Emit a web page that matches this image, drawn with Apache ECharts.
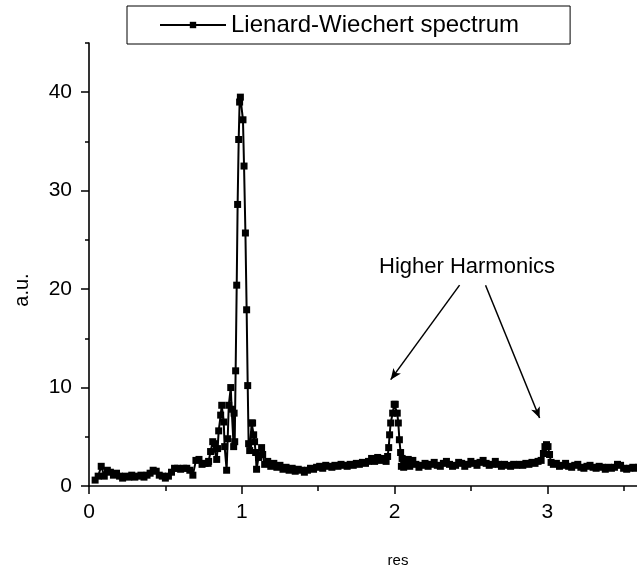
<!DOCTYPE html>
<html>
<head>
<meta charset="utf-8">
<script src="https://cdn.jsdelivr.net/npm/echarts@6/dist/echarts.min.js"></script>
<style>
html,body{margin:0;padding:0;background:#fff;}
#chart{width:637px;height:574px;}
</style>
</head>
<body>
<div id="chart"></div>
<script>
// x positions (res) and spectrum values (a.u.)
var resValues = [
  0.04,0.06,0.08,0.10,0.12,0.14,0.16,0.18,0.20,0.22,0.24,0.26,0.28,0.30,0.32,0.34,0.36,0.38,0.40,0.42,
  0.44,0.46,0.48,0.50,0.52,0.54,0.56,0.58,0.60,0.62,0.64,0.66,0.68,0.70,0.72,0.74,0.76,0.78,
  0.783,0.796,0.810,0.823,0.836,0.842,0.849,0.862,0.869,0.882,0.888,0.901,0.908,0.915,0.928,0.934,
  0.947,0.950,0.954,0.960,0.967,0.973,0.980,0.986,0.991,1.008,1.015,1.024,1.032,1.039,1.045,1.052,
  1.065,1.071,1.078,1.084,1.091,1.097,1.110,1.130,1.137,
  1.15,1.17,1.19,1.21,1.23,1.25,1.27,1.29,1.31,1.33,1.35,1.37,1.39,1.41,1.43,1.45,1.47,1.49,1.51,1.53,
  1.55,1.57,1.59,1.61,1.63,1.65,1.67,1.69,1.71,1.73,1.75,1.77,1.79,1.81,1.83,1.85,1.87,1.89,1.91,1.93,1.945,
  1.955,1.962,1.968,1.975,1.988,1.998,2.005,2.018,2.025,2.032,2.040,2.045,2.05,2.06,2.07,2.08,2.09,2.10,
  2.12,2.14,2.16,2.18,
  2.20,2.22,2.24,2.26,2.28,2.30,2.32,2.34,2.36,2.38,2.40,2.42,2.44,2.46,2.48,2.50,2.52,2.54,2.56,2.58,
  2.60,2.62,2.64,2.66,2.68,2.70,2.72,2.74,2.76,2.78,2.80,2.82,2.84,2.86,2.88,2.90,2.92,2.94,2.96,
  2.975,2.985,2.995,3.005,3.015,3.025,
  3.04,3.06,3.08,3.10,3.12,3.14,3.16,3.18,3.20,3.22,3.24,3.26,3.28,3.30,3.32,3.34,3.36,3.38,3.40,3.42,
  3.44,3.46,3.48,3.50,3.52,3.54,3.56,3.58,3.60
];
var spectrumValues = [
  0.6,1.0,2.0,1.0,1.6,1.4,1.1,1.3,1.0,0.8,1.0,0.9,1.1,0.9,1.0,1.1,0.9,1.1,1.3,1.6,
  1.5,1.1,1.0,0.8,1.0,1.4,1.8,1.8,1.7,1.8,1.8,1.6,1.1,2.6,2.7,2.2,2.3,2.3,
  2.5,3.5,4.5,4.3,2.7,3.8,5.6,7.2,8.2,6.5,4.0,1.6,4.8,8.2,10.0,7.8,
  4.0,7.4,4.5,11.7,20.4,28.6,35.2,39.0,39.5,37.2,32.5,25.7,17.9,10.2,4.3,3.6,
  6.4,6.4,5.2,4.5,3.4,1.7,2.9,3.9,3.2,
  2.2,2.5,2.0,2.3,1.9,2.1,1.7,1.9,1.6,1.8,1.5,1.7,1.6,1.4,1.6,1.8,1.7,1.9,2.0,1.8,
  2.1,2.0,1.9,2.1,2.0,2.2,2.1,2.0,2.2,2.1,2.3,2.2,2.4,2.3,2.5,2.8,2.5,2.9,2.6,2.8,2.5,
  3.0,3.9,5.2,6.4,7.4,8.3,8.3,7.4,6.4,4.7,3.4,2.0,2.8,1.9,2.6,2.3,2.7,2.0,
  2.6,2.2,1.9,2.1,
  2.3,2.0,2.2,2.4,2.1,2.0,2.3,2.5,2.2,2.0,2.1,2.4,2.3,2.0,2.2,2.5,2.3,2.1,2.4,2.6,
  2.3,2.1,2.2,2.5,2.2,2.0,2.2,2.1,2.0,2.2,2.1,2.2,2.1,2.3,2.2,2.4,2.3,2.5,2.6,
  3.3,4.0,4.2,4.0,3.2,2.4,
  2.2,2.3,2.0,2.1,2.3,2.0,1.9,2.1,2.2,1.9,1.8,2.0,2.1,1.9,1.8,2.0,1.9,1.7,1.9,1.8,
  1.9,2.2,2.1,1.8,1.7,1.8,1.9,1.8,1.9
];
var seriesName = 'Lienard-Wiechert spectrum';
var annotationText = 'Higher Harmonics';
var xAxisTitle = 'res';
var yAxisTitle = 'a.u.';
var xTickValues = [0, 1, 2, 3];
var yTickValues = [0, 10, 20, 30, 40];

var points = resValues.map(function (x, i) { return [x, spectrumValues[i]]; });
var FONT = '"Liberation Sans", Arial, Helvetica, sans-serif';

var chart = echarts.init(document.getElementById('chart'), null, {renderer: 'canvas'});
chart.setOption({
  animation: false,
  backgroundColor: '#fff',
  textStyle: {fontFamily: FONT, color: '#000'},
  grid: {left: 89, top: 43, width: 611, height: 443, containLabel: false, outerBoundsMode: 'none'},
  legend: {
    data: [seriesName],
    left: 127, top: 6,
    padding: [7, 51, 7, 32],
    borderColor: '#000', borderWidth: 1, borderRadius: 0,
    itemWidth: 66, itemHeight: 8,
    textStyle: {fontFamily: FONT, fontSize: 24, color: '#000', padding: [0, 0, 0, 0]},
    selectedMode: false
  },
  xAxis: {
    type: 'value', min: 0, max: 4, interval: 1,
    axisLine: {show: true, onZero: false, lineStyle: {color: '#000', width: 1.6}},
    axisTick: {show: true, inside: false, length: 8, lineStyle: {color: '#000', width: 1.5}},
    minorTick: {show: true, splitNumber: 2, length: 5, lineStyle: {color: '#000', width: 1.5}},
    splitLine: {show: false},
    axisLabel: {fontFamily: FONT, fontSize: 21, color: '#000', margin: 16,
      formatter: function (v) { return xTickValues.indexOf(v) >= 0 ? String(v) : ''; }}
  },
  yAxis: [{
    type: 'value', min: 0, max: 45, interval: 5,
    axisLine: {show: true, onZero: false, lineStyle: {color: '#000', width: 1.6}},
    axisTick: {show: true, inside: false, length: 4, lineStyle: {color: '#000', width: 1.5}},
    splitLine: {show: false},
    axisLabel: {show: false}
  }, {
    type: 'value', min: 0, max: 45, interval: 10, position: 'left',
    axisLine: {show: false},
    axisTick: {show: true, inside: false, length: 8, lineStyle: {color: '#000', width: 1.5}},
    splitLine: {show: false},
    axisLabel: {fontFamily: FONT, fontSize: 21, color: '#000', margin: 17, showMaxLabel: false,
      formatter: function (v) { return yTickValues.indexOf(v) >= 0 ? String(v) : ''; }}
  }],
  series: [{
    name: seriesName,
    type: 'line',
    yAxisIndex: 0,
    data: points,
    symbol: 'rect',
    symbolSize: 7,
    showAllSymbol: true,
    lineStyle: {color: '#000', width: 2},
    itemStyle: {color: '#000'},
    clip: true,
    markLine: {
      silent: true,
      symbol: ['none', 'arrow'],
      symbolSize: [7, 11],
      label: {show: false},
      lineStyle: {color: '#000', width: 1.5, type: 'solid'},
      data: [
        [{coord: [2.426, 20.4]}, {coord: [1.975, 10.8]}],
        [{coord: [2.596, 20.4]}, {coord: [2.95, 6.9]}]
      ]
    }
  }],
  graphic: [{
    type: 'text', left: 379, top: 256,
    style: {text: annotationText, fontFamily: FONT, fontSize: 22, fill: '#000'}
  }, {
    type: 'text', x: 22, y: 290, rotation: Math.PI / 2,
    style: {text: yAxisTitle, fontFamily: FONT, fontSize: 20, fill: '#000', align: 'center', verticalAlign: 'middle'}
  }, {
    type: 'text', x: 398, y: 561,
    style: {text: xAxisTitle, fontFamily: FONT, fontSize: 15, fill: '#000', align: 'center', verticalAlign: 'middle'}
  }]
});
</script>
</body>
</html>
